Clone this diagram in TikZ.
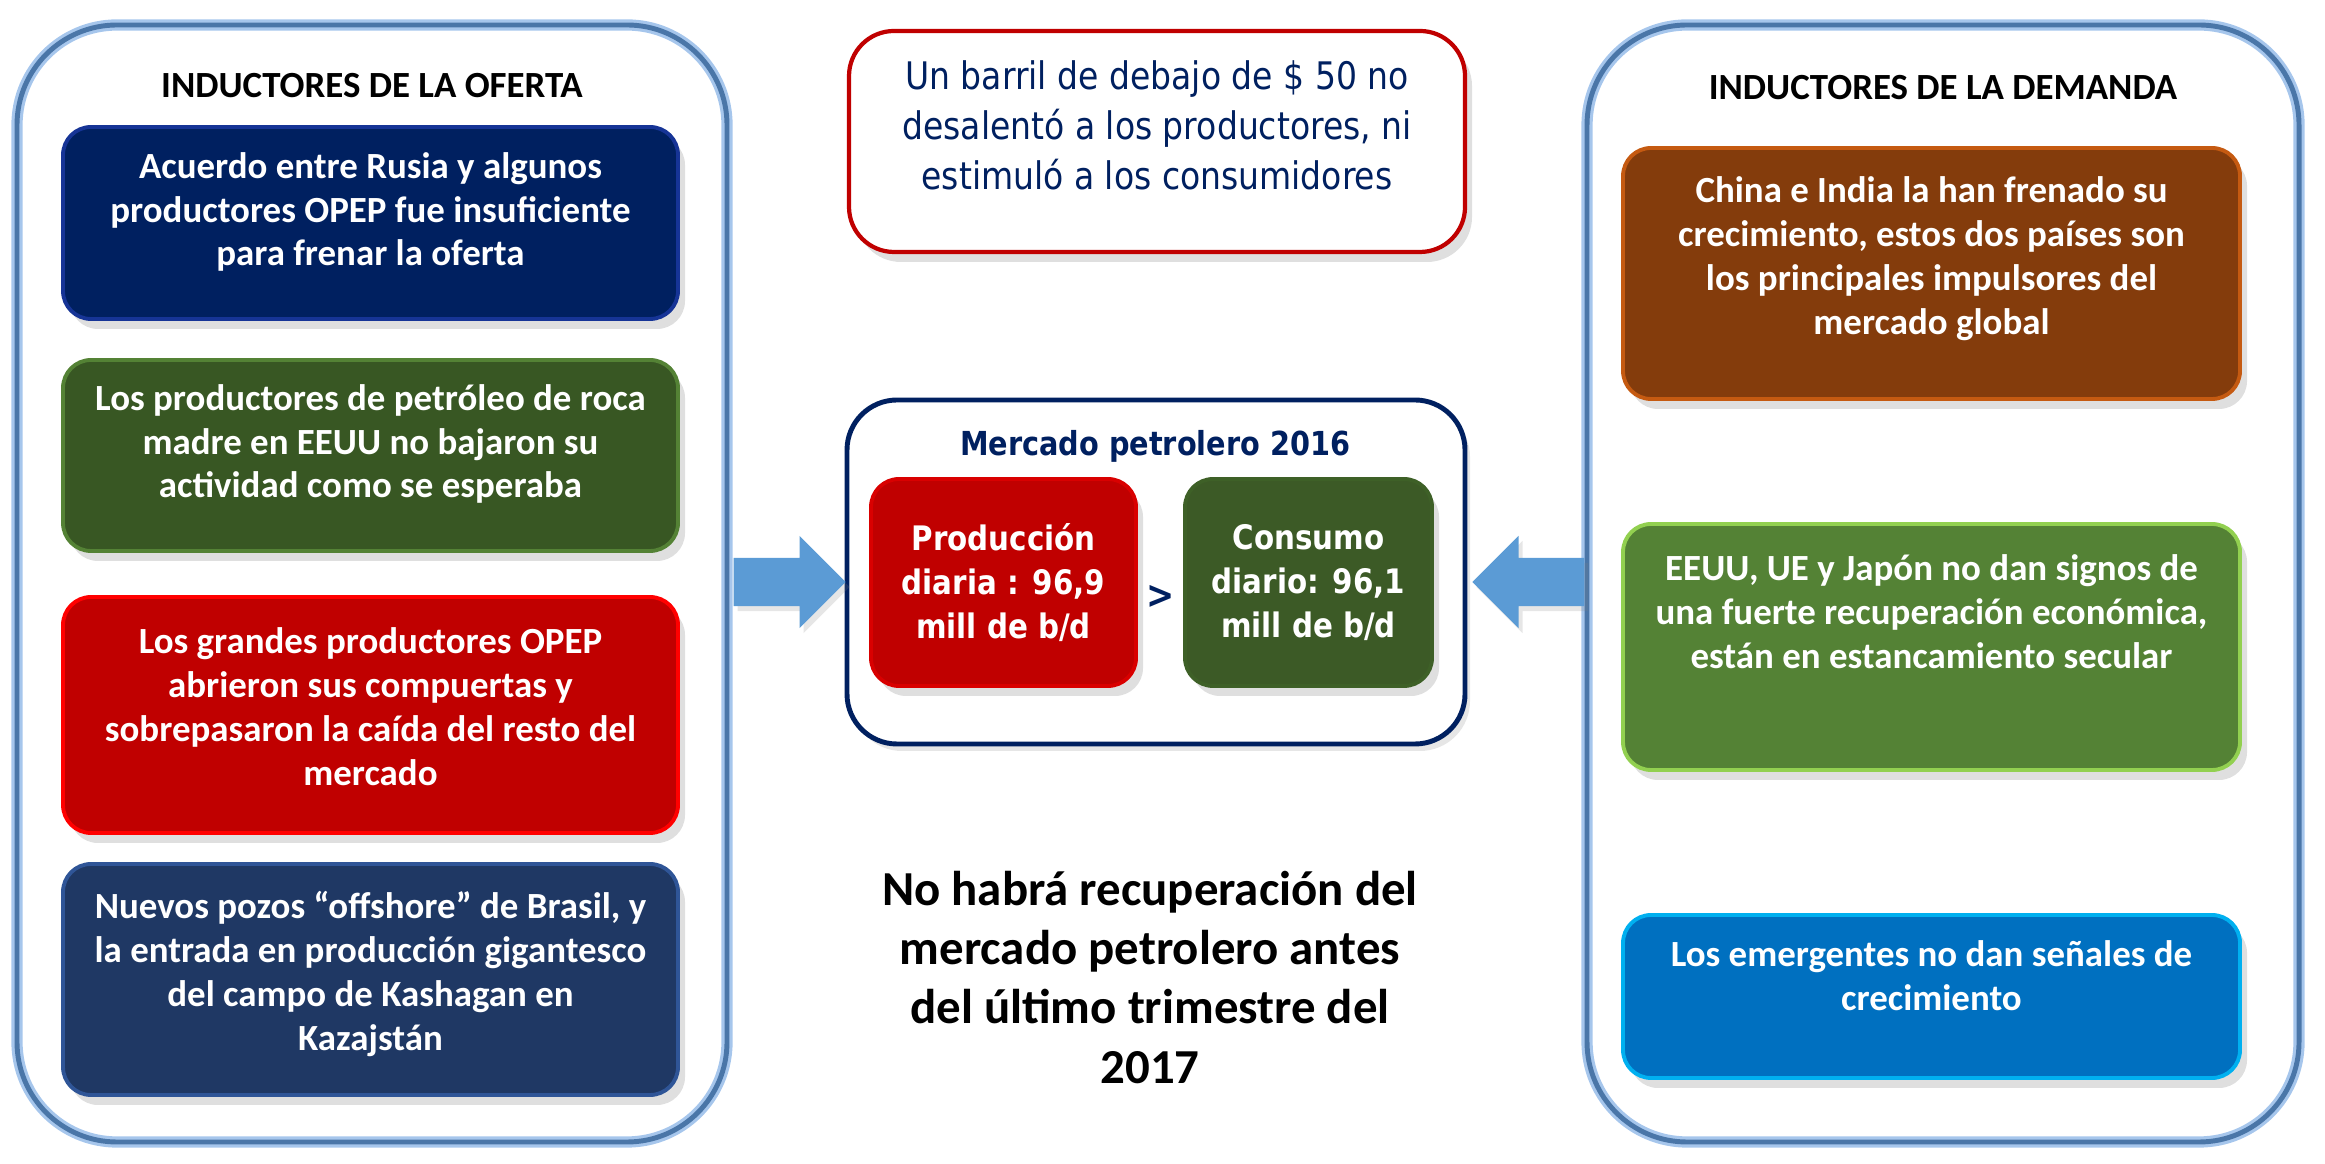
\documentclass[tikz,border=0pt]{standalone}
\usepackage{fontspec}
\setmainfont{Carlito}
\newfontfamily\tahfont[FakeStretch=0.87]{DejaVu Sans}
\usetikzlibrary{shadows,shapes.arrows}

\definecolor{frameblue}{RGB}{74,118,168}
\definecolor{frameglow}{RGB}{166,198,236}
\definecolor{arrowblue}{RGB}{91,155,213}
\definecolor{textnavy}{RGB}{0,32,96}
\definecolor{darkred}{RGB}{192,0,0}
\definecolor{navyA}{RGB}{0,32,96}
\definecolor{navyArim}{RGB}{22,52,150}
\definecolor{greenA}{RGB}{56,87,35}
\definecolor{greenArim}{RGB}{84,130,53}
\definecolor{redA}{RGB}{192,0,0}
\definecolor{redArim}{RGB}{255,0,0}
\definecolor{slateA}{RGB}{31,56,100}
\definecolor{slateArim}{RGB}{47,85,151}
\definecolor{brownA}{RGB}{132,60,12}
\definecolor{brownArim}{RGB}{197,90,17}
\definecolor{greenB}{RGB}{84,130,53}
\definecolor{greenBrim}{RGB}{146,208,80}
\definecolor{blueB}{RGB}{0,112,192}
\definecolor{blueBrim}{RGB}{0,176,240}
\definecolor{greenC}{RGB}{60,90,38}

\begin{document}
\begin{tikzpicture}[
  panel/.style={draw=frameblue,line width=1.4pt,rounded corners=1cm,inner sep=0pt,
    preaction={draw=frameglow,line width=3.2pt}},
  box/.style={rounded corners=.28cm,inner sep=0pt,line width=1.1pt,
    drop shadow={shadow xshift=.07cm,shadow yshift=-.1cm,opacity=.25}},
  boxtxt/.style={text=white,font=\fontsize{10.5}{12.5}\selectfont\bfseries,align=center,inner sep=0pt},
  bluearrow/.style={single arrow,fill=arrowblue,inner xsep=0pt,inner ysep=.235cm,minimum height=1.12cm,
    single arrow head extend=.22cm,single arrow tip angle=90,anchor=tail,
    drop shadow={shadow xshift=.04cm,shadow yshift=-.05cm,opacity=.2}}]
\useasboundingbox (0,0) rectangle (23.25,11.64);

% side panels
\node[panel,minimum width=7.10cm,minimum height=11.17cm] (lpanel) at (3.72,5.805) {};
\node[panel,minimum width=7.12cm,minimum height=11.17cm] (rpanel) at (19.43,5.805) {};
\node[font=\fontsize{10.5}{12.5}\selectfont\bfseries] (titL) at (3.72,10.78) {INDUCTORES DE LA OFERTA};
\node[font=\fontsize{10.5}{12.5}\selectfont\bfseries] (titR) at (19.43,10.76) {INDUCTORES DE LA DEMANDA};

% supply drivers
\node[box,fill=navyA,draw=navyArim,minimum width=6.15cm,minimum height=1.92cm] (of1) at (3.705,9.41) {};
\node[boxtxt] (of1t) at ([yshift=.11cm]of1.center) {Acuerdo entre Rusia y algunos\\productores OPEP fue insuficiente\\para frenar la oferta};
\node[box,fill=greenA,draw=greenArim,minimum width=6.15cm,minimum height=1.91cm] (of2) at (3.705,7.085) {};
\node[boxtxt] (of2t) at ([yshift=.115cm]of2.center) {Los productores de petróleo de roca\\madre en EEUU no bajaron su\\actividad como se esperaba};
\node[box,fill=redA,draw=redArim,minimum width=6.15cm,minimum height=2.36cm] (of3) at (3.705,4.49) {};
\node[boxtxt] (of3t) at ([yshift=.085cm]of3.center) {Los grandes productores OPEP\\abrieron sus compuertas y\\sobrepasaron la caída del resto del\\mercado};
\node[box,fill=slateA,draw=slateArim,minimum width=6.15cm,minimum height=2.31cm] (of4) at (3.705,1.845) {};
\node[boxtxt] (of4t) at ([yshift=.055cm]of4.center) {Nuevos pozos “offshore” de Brasil, y\\la entrada en producción gigantesco\\del campo de Kashagan en\\Kazajstán};

% demand drivers
\node[box,fill=brownA,draw=brownArim,minimum width=6.17cm,minimum height=2.51cm] (de1) at (19.315,8.905) {};
\node[boxtxt] (de1t) at ([yshift=.145cm]de1.center) {China e India la han frenado su\\crecimiento, estos dos países son\\los principales impulsores del\\mercado global};
\node[box,fill=greenB,draw=greenBrim,minimum width=6.17cm,minimum height=2.46cm] (de2) at (19.315,5.17) {};
\node[boxtxt] (de2t) at ([yshift=.35cm]de2.center) {EEUU, UE y Japón no dan signos de\\una fuerte recuperación económica,\\están en estancamiento secular};
\node[box,fill=blueB,draw=blueBrim,minimum width=6.17cm,minimum height=1.63cm] (de3) at (19.315,1.675) {};
\node[boxtxt] (de3t) at ([yshift=.205cm]de3.center) {Los emergentes no dan señales de\\crecimiento};

% centre
\node[box,fill=white,draw=darkred,line width=1.2pt,rounded corners=.45cm,minimum width=6.16cm,minimum height=2.21cm] (barril) at (11.57,10.225) {};
\node[text=textnavy,font=\tahfont\fontsize{10.8}{14.2}\selectfont,align=center,inner sep=0pt] (barrilt) at ([yshift=.165cm]barril.center) {Un barril de debajo de \$ 50 no\\desalentó a los productores, ni\\estimuló a los consumidores};

\node[draw=textnavy,line width=1.4pt,rounded corners=.5cm,minimum width=6.18cm,minimum height=3.44cm,inner sep=0pt,
  drop shadow={shadow xshift=.05cm,shadow yshift=-.07cm,opacity=.2},fill=white] (mercado) at (11.56,5.92) {};
\node[text=textnavy,font=\tahfont\bfseries\fontsize{9.4}{12.5}\selectfont] (titM) at (11.55,7.18) {Mercado petrolero 2016};
\node[box,fill=redA,draw=red!85!black,minimum width=2.65cm,minimum height=2.07cm,text=white,align=center,
  font=\tahfont\bfseries\fontsize{9.6}{12.5}\selectfont] (prod) at (10.035,5.815) {Producción\\diaria : 96,9\\mill de b/d};
\node[box,fill=greenC,draw=greenA!80!greenArim,minimum width=2.47cm,minimum height=2.07cm,text=white,align=center,
  font=\tahfont\bfseries\fontsize{9.6}{12.5}\selectfont] (cons) at (13.085,5.815) {Consumo\\diario: 96,1\\mill de b/d};
\node[text=textnavy,font=\tahfont\bfseries\fontsize{11}{13}\selectfont] (gt) at (11.61,5.67) {>};

% block arrows, panels to market box
\node[bluearrow] (arrL) at (7.33,5.82) {};
\node[bluearrow,shape border rotate=180] (arrR) at (15.85,5.82) {};

\node[font=\fontsize{13.9}{16.8}\selectfont\bfseries,align=center] (concl) at (11.50,1.865) {No habrá recuperación del\\mercado petrolero antes\\del último trimestre del\\2017};
\end{tikzpicture}
\end{document}
